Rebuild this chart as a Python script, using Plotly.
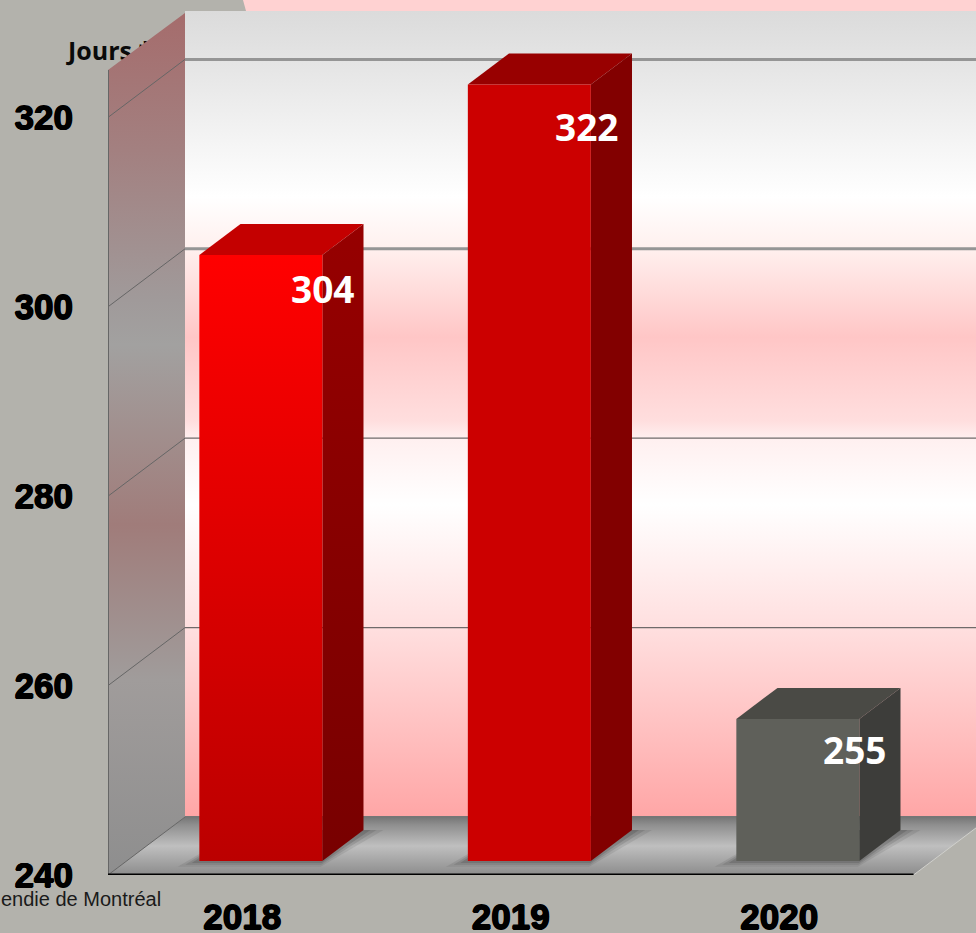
import plotly.graph_objects as go

# ---- data ----
years = ["2018", "2019", "2020"]
days = [304, 322, 255]
value_ticks = [240, 260, 280, 300, 320]
y_title = "Jours *"
source_text = "endie de Montréal"

# ---- styling ----
PAGE = "#b3b2ac"
W, H = 976, 933
LEFT, BOTTOM = 108, 58
S_Y = 9.47                      # px per day
S_X = 268.5                     # px per category
Y0, YMAX = 240, 240 + (H - BOTTOM) / S_Y
XMIN, XMAX = -0.5, -0.5 + (W - LEFT) / S_X
DX, DY = 77 / S_X, 58 / S_Y     # full depth of the floor in axis units
D_FRONT, D_BACK = 14 / 58, 45 / 58   # bars' depth positions
HALF = 61.5 / S_X
XEND = 2.5
WALL_TOP = Y0 + 864 / S_Y       # top of back wall

def P(x, v, d=0.0):
    return x + d * DX, v + d * DY

def poly(pts, solid=None, grad=None):
    xs, ys = zip(*pts)
    tr = dict(x=list(xs) + [xs[0]], y=list(ys) + [ys[0]], mode="lines", fill="toself",
              line=dict(width=0), hoverinfo="skip", showlegend=False)
    if grad:
        tr["fillgradient"] = dict(type="vertical", colorscale=grad)
    else:
        tr["fillcolor"] = solid
    return go.Scatter(**tr)

def line(pts, color, width, clip=True):
    xs, ys = zip(*pts)
    return go.Scatter(x=list(xs), y=list(ys), mode="lines", line=dict(color=color, width=width),
                      hoverinfo="skip", showlegend=False, cliponaxis=clip)

def px_v(py):
    return Y0 + (H - BOTTOM - py) / S_Y

def px_x(px):
    return XMIN + (px - LEFT) / S_X

def scale(py_top, py_bot, stops):
    """vertical colorscale from (pixel row, colour) stops; 0 = bottom of the range"""
    span = py_bot - py_top
    return sorted([[(py_bot - p) / span, c] for p, c in stops], key=lambda s: s[0])

fig = go.Figure()

# "Jours *" goes behind the side wall
fig.add_trace(go.Scatter(x=[px_x(110)], y=[px_v(54)], mode="text", text=[y_title],
                         textposition="middle center", cliponaxis=False, hoverinfo="skip", showlegend=False,
                         textfont=dict(family="Open Sans", size=25, color="#0a0a0a", weight="bold")))

# pink strip above the back wall
fig.add_trace(poly([(px_x(243), YMAX), (XMAX, YMAX), (XMAX, WALL_TOP), (px_x(246), WALL_TOP)], solid="#ffd2d2"))

# back wall
wall_low, wall_high = Y0 + DY, WALL_TOP
wall_stops = [(11, "#dbdbdb"), (60, "#e4e4e4"), (130, "#f2f2f2"), (197, "#ffffff"), (249, "#fff0ee"),
              (337, "#ffc6c6"), (421, "#ffdede"), (439, "#fff0f0"), (505, "#ffffff"), (628, "#ffdfdf"),
              (817, "#ffa6a6")]
fig.add_trace(poly([(px_x(185), wall_low), (XMAX, wall_low), (XMAX, wall_high), (px_x(185), wall_high)],
                   grad=scale(11, 817, wall_stops)))

# floor
fl = [P(XMIN, Y0), P(XEND, Y0), P(XEND, Y0, 1), P(XMIN, Y0, 1)]
fig.add_trace(poly(fl, grad=scale(817, 875, [(817, "#757575"), (825, "#8f8f8f"), (846, "#bfbfbf"), (875, "#8c8c8c")])))
fig.add_trace(line([P(XEND, Y0), P(XEND, Y0, 1)], "#d0d0cc", 1))

# left wall
side_stops = [(13, "#a56c6c"), (150, "#a38080"), (300, "#a09a9a"), (345, "#a2a1a0"), (525, "#a07c7a"),
              (680, "#a09c9b"), (875, "#8e8e8e")]
fig.add_trace(poly([P(XMIN, Y0), P(XMIN, Y0, 1), (px_x(185), wall_high - 2 / S_Y), P(XMIN, px_v(70))],
                   grad=scale(13, 875, side_stops)))

# grid lines
for v in value_ticks[1:]:
    strong = v >= 300
    fig.add_trace(line([P(XMIN, v), P(XMIN, v, 1)], "#666666", 1))
    fig.add_trace(line([P(XMIN, v, 1), P(XMAX, v, 1)], "#959595" if strong else "#6f6a6a", 3 if strong else 1.2))
fig.add_trace(line([P(XMIN, Y0), P(XMIN, Y0, 1)], "#666666", 1))
fig.add_trace(line([P(XMIN, Y0, 1), P(XMAX, Y0, 1)], "#767676", 2))

# left edge and base axis
fig.add_trace(line([(XMIN, Y0), (XMIN, px_v(70))], "#666666", 2))
fig.add_trace(line([(XMIN, Y0), (XEND, Y0)], "#000000", 3, clip=False))

# bars
fronts = [
    dict(grad=[[0, "#bb0000"], [1, "#ff0000"]]),
    dict(solid="#cc0000"),
    dict(solid="#5f605a"),
]
tops = ["#c40000", "#980000", "#4a4a45"]
sides = [dict(grad=[[0, "#780000"], [1, "#960000"]]), dict(solid="#820000"), dict(solid="#3d3d3a")]
for i, v in enumerate(days):
    xl, xr = i - HALF, i + HALF
    # soft shadow on the floor
    for grow, a in [(20, 0.10), (13, 0.14), (7, 0.18)]:
        g = grow / S_X
        fig.add_trace(poly([P(xl - g * 0.7, Y0, D_FRONT - grow / 200), P(xr + g * 0.3, Y0, D_FRONT - grow / 200),
                            P(xr + g, Y0, D_BACK), P(xl, Y0, D_BACK)], solid=f"rgba(40,40,40,{a})"))
    fig.add_trace(poly([P(xl, v, D_FRONT), P(xr, v, D_FRONT), P(xr, v, D_BACK), P(xl, v, D_BACK)], solid=tops[i]))
    fig.add_trace(poly([P(xr, Y0, D_FRONT), P(xr, Y0, D_BACK), P(xr, v, D_BACK), P(xr, v, D_FRONT)], **sides[i]))
    fig.add_trace(poly([P(xl, Y0, D_FRONT), P(xr, Y0, D_FRONT), P(xr, v, D_FRONT), P(xl, v, D_FRONT)], **fronts[i]))

# value labels: centred on the bar's right front edge
label_dx = [0, -4, -5]
label_dy = [34, 42, 31]
annotations = []
for i, v in enumerate(days):
    xp, yp = P(i + HALF, v, D_FRONT)
    annotations.append(dict(x=xp, y=yp, xref="x", yref="y", text=f"<b>{v}</b>", showarrow=False,
                            xanchor="center", yanchor="middle", xshift=label_dx[i], yshift=-label_dy[i],
                            font=dict(family="Open Sans", size=37, color="#ffffff")))
annotations.append(dict(x=(163 - LEFT) / (W - LEFT), y=-(899 - (H - BOTTOM)) / (H - BOTTOM), xref="paper", yref="paper",
                        text=source_text, showarrow=False, xanchor="right", yanchor="middle",
                        font=dict(family="Liberation Sans", size=20, color="#1a1a1a")))

tick_font = dict(family="Liberation Sans", size=35, color="#000000", weight="bold",
                 shadow="0.7px 0 0 #000, -0.7px 0 0 #000, 0 0.7px 0 #000, 0 -0.7px 0 #000")

fig.update_layout(
    width=W, height=H, autosize=False,
    margin=dict(l=LEFT, r=0, t=0, b=BOTTOM, pad=0),
    paper_bgcolor=PAGE, plot_bgcolor=PAGE,
    showlegend=False, annotations=annotations,
    xaxis=dict(range=[XMIN, XMAX], tickmode="array", tickvals=list(range(len(years))), ticktext=years,
               showgrid=False, zeroline=False, showline=False, ticks="outside", ticklen=11, automargin=False,
               tickcolor="rgba(0,0,0,0)", tickfont=tick_font, fixedrange=True),
    yaxis=dict(range=[Y0, YMAX], tickmode="array", tickvals=value_ticks, automargin=False,
               showgrid=False, zeroline=False, showline=False, ticks="outside", ticklen=27,
               tickcolor="rgba(0,0,0,0)", tickfont=tick_font, fixedrange=True),
)
fig.write_html("out.html", config=dict(displayModeBar=False),
               post_script="document.body.style.margin='0';document.body.style.overflow='hidden';")
